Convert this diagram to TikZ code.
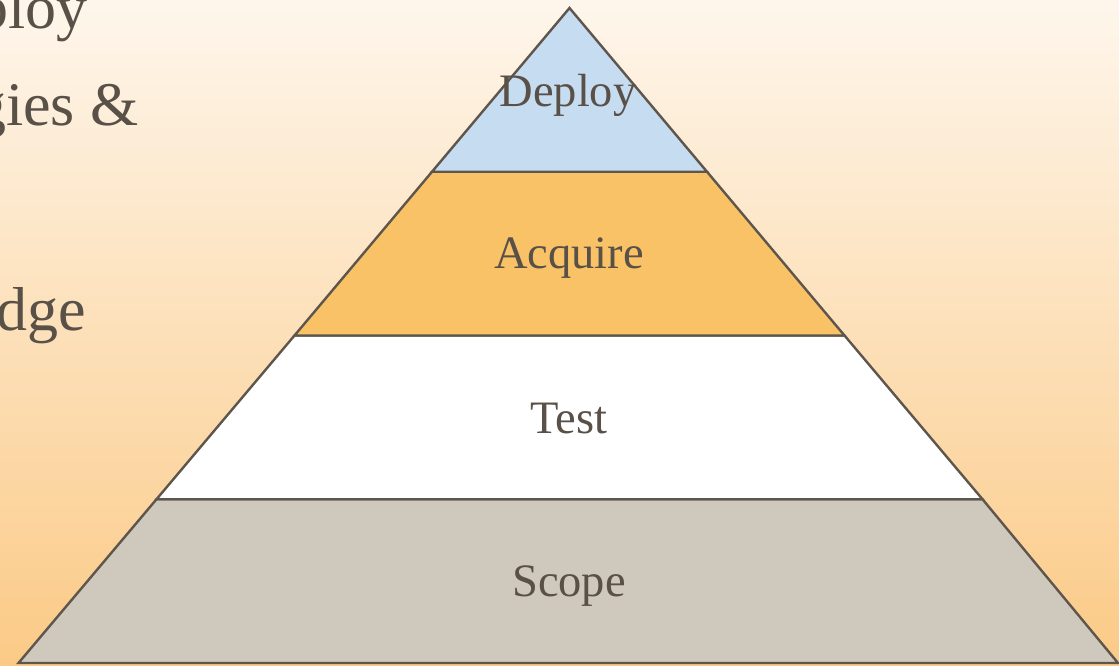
\documentclass[tikz,border=0pt]{standalone}
\usepackage{fontspec}
\setmainfont{Liberation Serif}
\definecolor{bgtop}{HTML}{FEF6EC}
\definecolor{bgbot}{HTML}{FBCA86}
\definecolor{edge}{HTML}{5E564D}
\definecolor{txt}{HTML}{595048}
\definecolor{deployc}{HTML}{C6DCF0}
\definecolor{acquirec}{HTML}{FAC266}
\definecolor{testc}{HTML}{FFFFFF}
\definecolor{scopec}{HTML}{CFC8BC}
\tikzset{
  tier/.style={draw=edge, line width=2.4pt, line join=miter},
  tierlabel/.style={text=txt, font=\fontsize{46.5}{56}\selectfont, inner sep=0pt, anchor=base},
  sidelabel/.style={text=txt, font=\fontsize{62}{74}\selectfont, inner sep=0pt, anchor=base east},
}
\begin{document}
\begin{tikzpicture}[x=1pt,y=-1pt]
\useasboundingbox (0,0) rectangle (1119,665);
\shade[top color=bgtop, bottom color=bgbot] (0,0) rectangle (1119,665);
% pyramid key points
\coordinate (apex) at (569.5,8);
\coordinate (l1) at (432,171.75);  \coordinate (r1) at (707,171.75);
\coordinate (l2) at (294.5,335.5); \coordinate (r2) at (844.5,335.5);
\coordinate (l3) at (156.5,499.25);\coordinate (r3) at (982.5,499.25);
\coordinate (l4) at (18.5,663);    \coordinate (r4) at (1118,663);
\path[tier, fill=scopec] (l3) -- (r3) -- (r4) -- (l4) -- cycle;
\path[tier, fill=testc] (l2) -- (r2) -- (r3) -- (l3) -- cycle;
\path[tier, fill=acquirec] (l1) -- (r1) -- (r2) -- (l2) -- cycle;
\path[tier, fill=deployc] (apex) -- (r1) -- (l1) -- cycle;
\node[tierlabel] (deploy) at (568,106) {Deploy};
\node[tierlabel] (acquire) at (569,268) {Acquire};
\node[tierlabel] (test) at (569,433) {Test};
\node[tierlabel] (scope) at (569,596) {Scope};
\node[sidelabel] (s1) at (88,28) {ploy};
\node[sidelabel] (s2) at (139,125) {gies \&};
\node[sidelabel] (s3) at (86,330) {dge};
\end{tikzpicture}
\end{document}
